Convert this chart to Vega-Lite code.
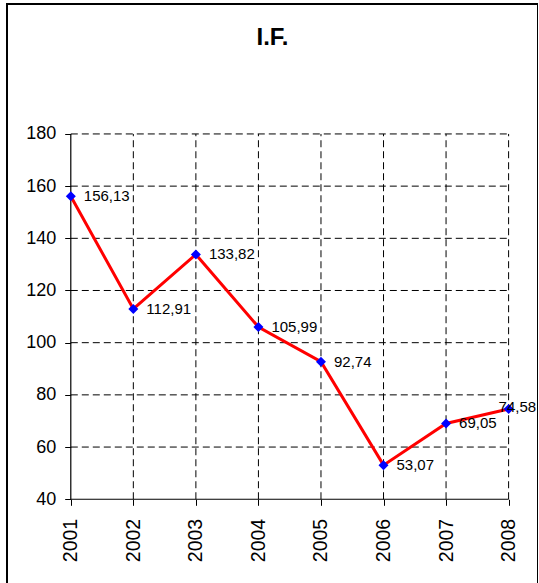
{
  "$schema": "https://vega.github.io/schema/vega-lite/v6.json",
  "autosize": {"type": "none"},
  "padding": {"left": 7, "top": 4, "right": 0, "bottom": 0},
  "width": 531,
  "height": 585,
  "background": "white",
  "config": {
    "view": {"stroke": "black", "strokeWidth": 2},
    "font": "Liberation Sans",
    "axis": {"labelFont": "Liberation Sans", "labelColor": "black", "tickColor": "black"},
    "axisY": {"labelFontSize": 18},
    "axisX": {"labelFontSize": 19.5}
  },
  "title": {
    "text": "I.F.",
    "font": "Liberation Sans",
    "fontSize": 24,
    "fontWeight": "bold",
    "color": "black",
    "anchor": "middle",
    "frame": "group",
    "offset": -46
  },
  "datasets": {
    "main": [
      {"year": 2001, "value": 156.13, "label": "156,13"},
      {"year": 2002, "value": 112.91, "label": "112,91"},
      {"year": 2003, "value": 133.82, "label": "133,82"},
      {"year": 2004, "value": 105.99, "label": "105,99"},
      {"year": 2005, "value": 92.74, "label": "92,74"},
      {"year": 2006, "value": 53.07, "label": "53,07"},
      {"year": 2007, "value": 69.05, "label": "69,05"},
      {"year": 2008, "value": 74.58, "label": "74,58"}
    ],
    "hgrid": [{"v": 60}, {"v": 80}, {"v": 100}, {"v": 120}, {"v": 140}, {"v": 160}, {"v": 180}],
    "vgrid": [{"yr": 2002}, {"yr": 2003}, {"yr": 2004}, {"yr": 2005}, {"yr": 2006}, {"yr": 2007}, {"yr": 2008}]
  },
  "layer": [
    {
      "data": {"name": "hgrid"},
      "mark": {"type": "rule", "color": "black", "strokeWidth": 1, "strokeDash": [7, 4]},
      "encoding": {
        "y": {"field": "v", "type": "quantitative", "scale": {"domain": [5.6, 229.8], "nice": false, "zero": false},
          "axis": {"orient": "left", "offset": -63.7, "values": [40, 60, 80, 100, 120, 140, 160, 180], "domain": false, "grid": false, "ticks": true, "tickSize": 6, "tickColor": "black", "labelFontSize": 18, "labelColor": "black", "labelPadding": 9, "title": null}},
        "x": {"datum": 2001, "type": "quantitative", "scale": {"domain": [1999.98, 2008.47], "nice": false, "zero": false},
          "axis": {"orient": "bottom", "offset": -89.7, "values": [2001, 2002, 2003, 2004, 2005, 2006, 2007, 2008], "format": "d", "domain": false, "grid": false, "ticks": true, "tickSize": 6, "tickColor": "black", "labelFontSize": 19.5, "labelColor": "black", "labelAngle": 270, "labelAlign": "right", "labelBaseline": "middle", "labelPadding": 13, "title": null}},
        "x2": {"datum": 2008}
      }
    },
    {
      "data": {"name": "vgrid"},
      "mark": {"type": "rule", "color": "black", "strokeWidth": 1, "strokeDash": [7, 4]},
      "encoding": {
        "x": {"field": "yr", "type": "quantitative"},
        "y": {"datum": 40},
        "y2": {"datum": 180}
      }
    },
    {
      "data": {"values": [{"a": 1}]},
      "mark": {"type": "rule", "color": "black", "strokeWidth": 1.2},
      "encoding": {
        "x": {"datum": 2001},
        "y": {"datum": 40},
        "y2": {"datum": 180}
      }
    },
    {
      "data": {"values": [{"a": 1}]},
      "mark": {"type": "rule", "color": "black", "strokeWidth": 1.2},
      "encoding": {
        "y": {"datum": 40},
        "x": {"datum": 2001},
        "x2": {"datum": 2008}
      }
    },
    {
      "data": {"name": "main"},
      "mark": {"type": "line", "color": "#FF0000", "strokeWidth": 3},
      "encoding": {
        "x": {"field": "year", "type": "quantitative"},
        "y": {"field": "value", "type": "quantitative"}
      }
    },
    {
      "data": {"name": "main"},
      "mark": {"type": "point", "shape": "diamond", "filled": true, "color": "#0000FF", "size": 100, "opacity": 1},
      "encoding": {
        "x": {"field": "year", "type": "quantitative"},
        "y": {"field": "value", "type": "quantitative"}
      }
    },
    {
      "data": {"name": "main"},
      "transform": [{"filter": "datum.year < 2008"}],
      "mark": {"type": "text", "align": "left", "baseline": "middle", "dx": 13, "fontSize": 15, "color": "black"},
      "encoding": {
        "x": {"field": "year", "type": "quantitative"},
        "y": {"field": "value", "type": "quantitative"},
        "text": {"field": "label"}
      }
    },
    {
      "data": {"name": "main"},
      "transform": [{"filter": "datum.year == 2008"}],
      "mark": {"type": "text", "align": "left", "baseline": "middle", "dx": -10, "dy": -2, "fontSize": 15, "color": "black"},
      "encoding": {
        "x": {"field": "year", "type": "quantitative"},
        "y": {"field": "value", "type": "quantitative"},
        "text": {"field": "label"}
      }
    }
  ]
}
